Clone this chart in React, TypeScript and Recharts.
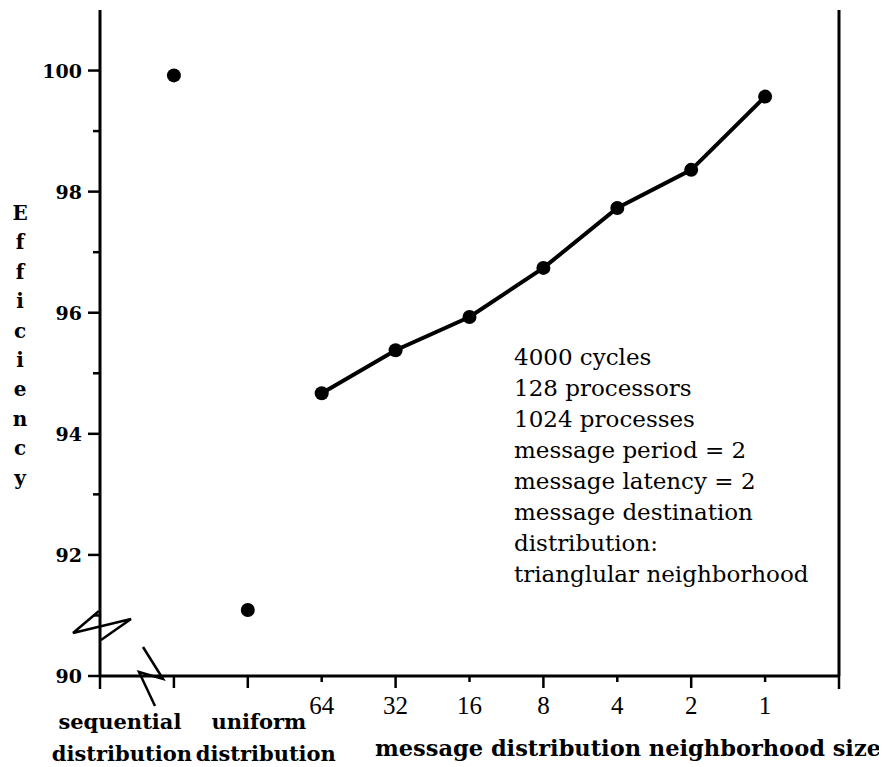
import { ComposedChart, Line, Scatter, XAxis, YAxis, Customized } from 'recharts';

// x slots: 1..9, left to right
const categories = ['sequential', 'uniform', '64', '32', '16', '8', '4', '2', '1'];
const baselineNames = ['sequential', 'uniform'];
const baselineEfficiency = [99.92, 91.09];
const neighborhoodSizes = ['64', '32', '16', '8', '4', '2', '1'];
const neighborhoodEfficiency = [94.67, 95.38, 95.93, 96.74, 97.73, 98.36, 99.57];
const efficiencyTicks = [90, 91, 92, 93, 94, 95, 96, 97, 98, 99, 100];
const notes = [
  '4000 cycles',
  '128 processors',
  '1024 processes',
  'message period = 2',
  'message latency = 2',
  'message destination',
  'distribution:',
  'trianglular neighborhood',
];

const slot = (name: string) => categories.indexOf(name) + 1;
const baselineRows = baselineNames.map((n, i) => ({ x: slot(n), eff: baselineEfficiency[i] }));
const sizeRows = neighborhoodSizes.map((n, i) => ({ x: slot(n), eff: neighborhoodEfficiency[i] }));
const xMax = categories.length + 1;
const xTicks = Array.from({ length: xMax + 1 }, (_, i) => i);

const W = 879;
const H = 759;
const SERIF = '"DejaVu Serif", serif';
const TIMES = '"Liberation Serif", serif';
const INK = '#000';

const EffTick = (props: any) => {
  const { x, y, payload } = props;
  const ax = x + 18;
  const major = payload.value % 2 === 0;
  return (
    <g>
      <line x1={ax - (major ? 12 : 7)} x2={ax} y1={y} y2={y} stroke={INK} strokeWidth={2.5} />
      {major && (
        <text x={ax - 18} y={y + 7} textAnchor="end" fontFamily={SERIF} fontWeight="bold" fontSize={19} fill={INK}>
          {payload.value}
        </text>
      )}
    </g>
  );
};

const SlotTick = (props: any) => {
  const { x, y, payload } = props;
  const v = payload.value as number;
  const len = v === 0 || v === xMax ? 13 : v <= 2 || v % 2 === 0 ? 12 : 6;
  const name = categories[v - 1];
  let label = null;
  if (name && baselineNames.includes(name)) {
    const seq = name === 'sequential';
    label = (
      <text textAnchor="middle" fontFamily={SERIF} fontWeight="bold" fontSize={21} fill={INK}>
        <tspan x={seq ? x - 54 : x + 11} y={y + 53}>{name}</tspan>
        <tspan x={seq ? x - 52 : x + 18} y={y + 85}>distribution</tspan>
      </text>
    );
  } else if (name) {
    label = (
      <text x={x} y={y + 38} textAnchor="middle" fontFamily={TIMES} fontSize={25} fill={INK}>
        {name}
      </text>
    );
  }
  return (
    <g>
      <line x1={x} x2={x} y1={y} y2={y + len} stroke={INK} strokeWidth={2.5} />
      {label}
    </g>
  );
};

const Dot = (props: any) => {
  const { cx, cy } = props;
  if (cx == null || cy == null) return null;
  return <circle cx={cx} cy={cy} r={7} fill={INK} />;
};

// axis breaks, the vertical axis title and the run parameters
const Extras = () => (
  <g>
    <rect x={89} y={605} width={6} height={25} fill="#fff" />
    <polyline points="91,603 65,625 123,611 93,632" fill="none" stroke={INK} strokeWidth={2.5} />
    <rect x={132} y={665} width={22} height={6} fill="#fff" />
    <polyline points="135,639 155,671 131,664 147,698" fill="none" stroke={INK} strokeWidth={2.5} />
    <text textAnchor="middle" fontFamily={SERIF} fontWeight="bold" fontSize={20} fill={INK}>
      {'Efficiency'.split('').map((ch, i) => (
        <tspan key={i} x={12} y={212 + i * 29.4}>{ch}</tspan>
      ))}
    </text>
    <text fontFamily={SERIF} fontSize={23} fill={INK}>
      {notes.map((t, i) => (
        <tspan key={i} x={506} y={357 + i * 31}>{t}</tspan>
      ))}
    </text>
    <text x={620} y={748} textAnchor="middle" fontFamily={SERIF} fontWeight="bold" fontSize={22.5} fill={INK}>
      message distribution neighborhood size
    </text>
  </g>
);

export default function App() {
  return (
    <div style={{ width: W, height: H, background: '#fff' }}>
      <ComposedChart width={W} height={H} margin={{ top: 2, right: 0, bottom: 0, left: 0 }}>
        <XAxis
          dataKey="x"
          type="number"
          domain={[0, xMax]}
          ticks={xTicks}
          interval={0}
          height={91}
          tickSize={0}
          tickMargin={0}
          tickLine={false}
          axisLine={{ stroke: INK, strokeWidth: 3 }}
          tick={<SlotTick />}
        />
        <XAxis
          xAxisId="top"
          orientation="top"
          type="number"
          domain={[0, xMax]}
          height={0}
          tick={false}
          tickLine={false}
          axisLine={{ stroke: INK, strokeWidth: 3 }}
        />
        <YAxis
          dataKey="eff"
          type="number"
          domain={[90, 101]}
          ticks={efficiencyTicks}
          interval={0}
          width={92}
          tickSize={12}
          tickMargin={6}
          tickLine={false}
          axisLine={{ stroke: INK, strokeWidth: 3 }}
          tick={<EffTick />}
        />
        <YAxis
          yAxisId="right"
          orientation="right"
          type="number"
          domain={[90, 101]}
          width={48}
          tick={false}
          tickLine={false}
          axisLine={{ stroke: INK, strokeWidth: 3 }}
        />
        <Line
          data={sizeRows}
          dataKey="eff"
          type="linear"
          stroke={INK}
          strokeWidth={4}
          dot={<Dot />}
          activeDot={false}
          isAnimationActive={false}
        />
        <Scatter data={baselineRows} dataKey="eff" fill={INK} shape={<Dot />} isAnimationActive={false} />
        <Customized component={<Extras />} />
      </ComposedChart>
    </div>
  );
}
